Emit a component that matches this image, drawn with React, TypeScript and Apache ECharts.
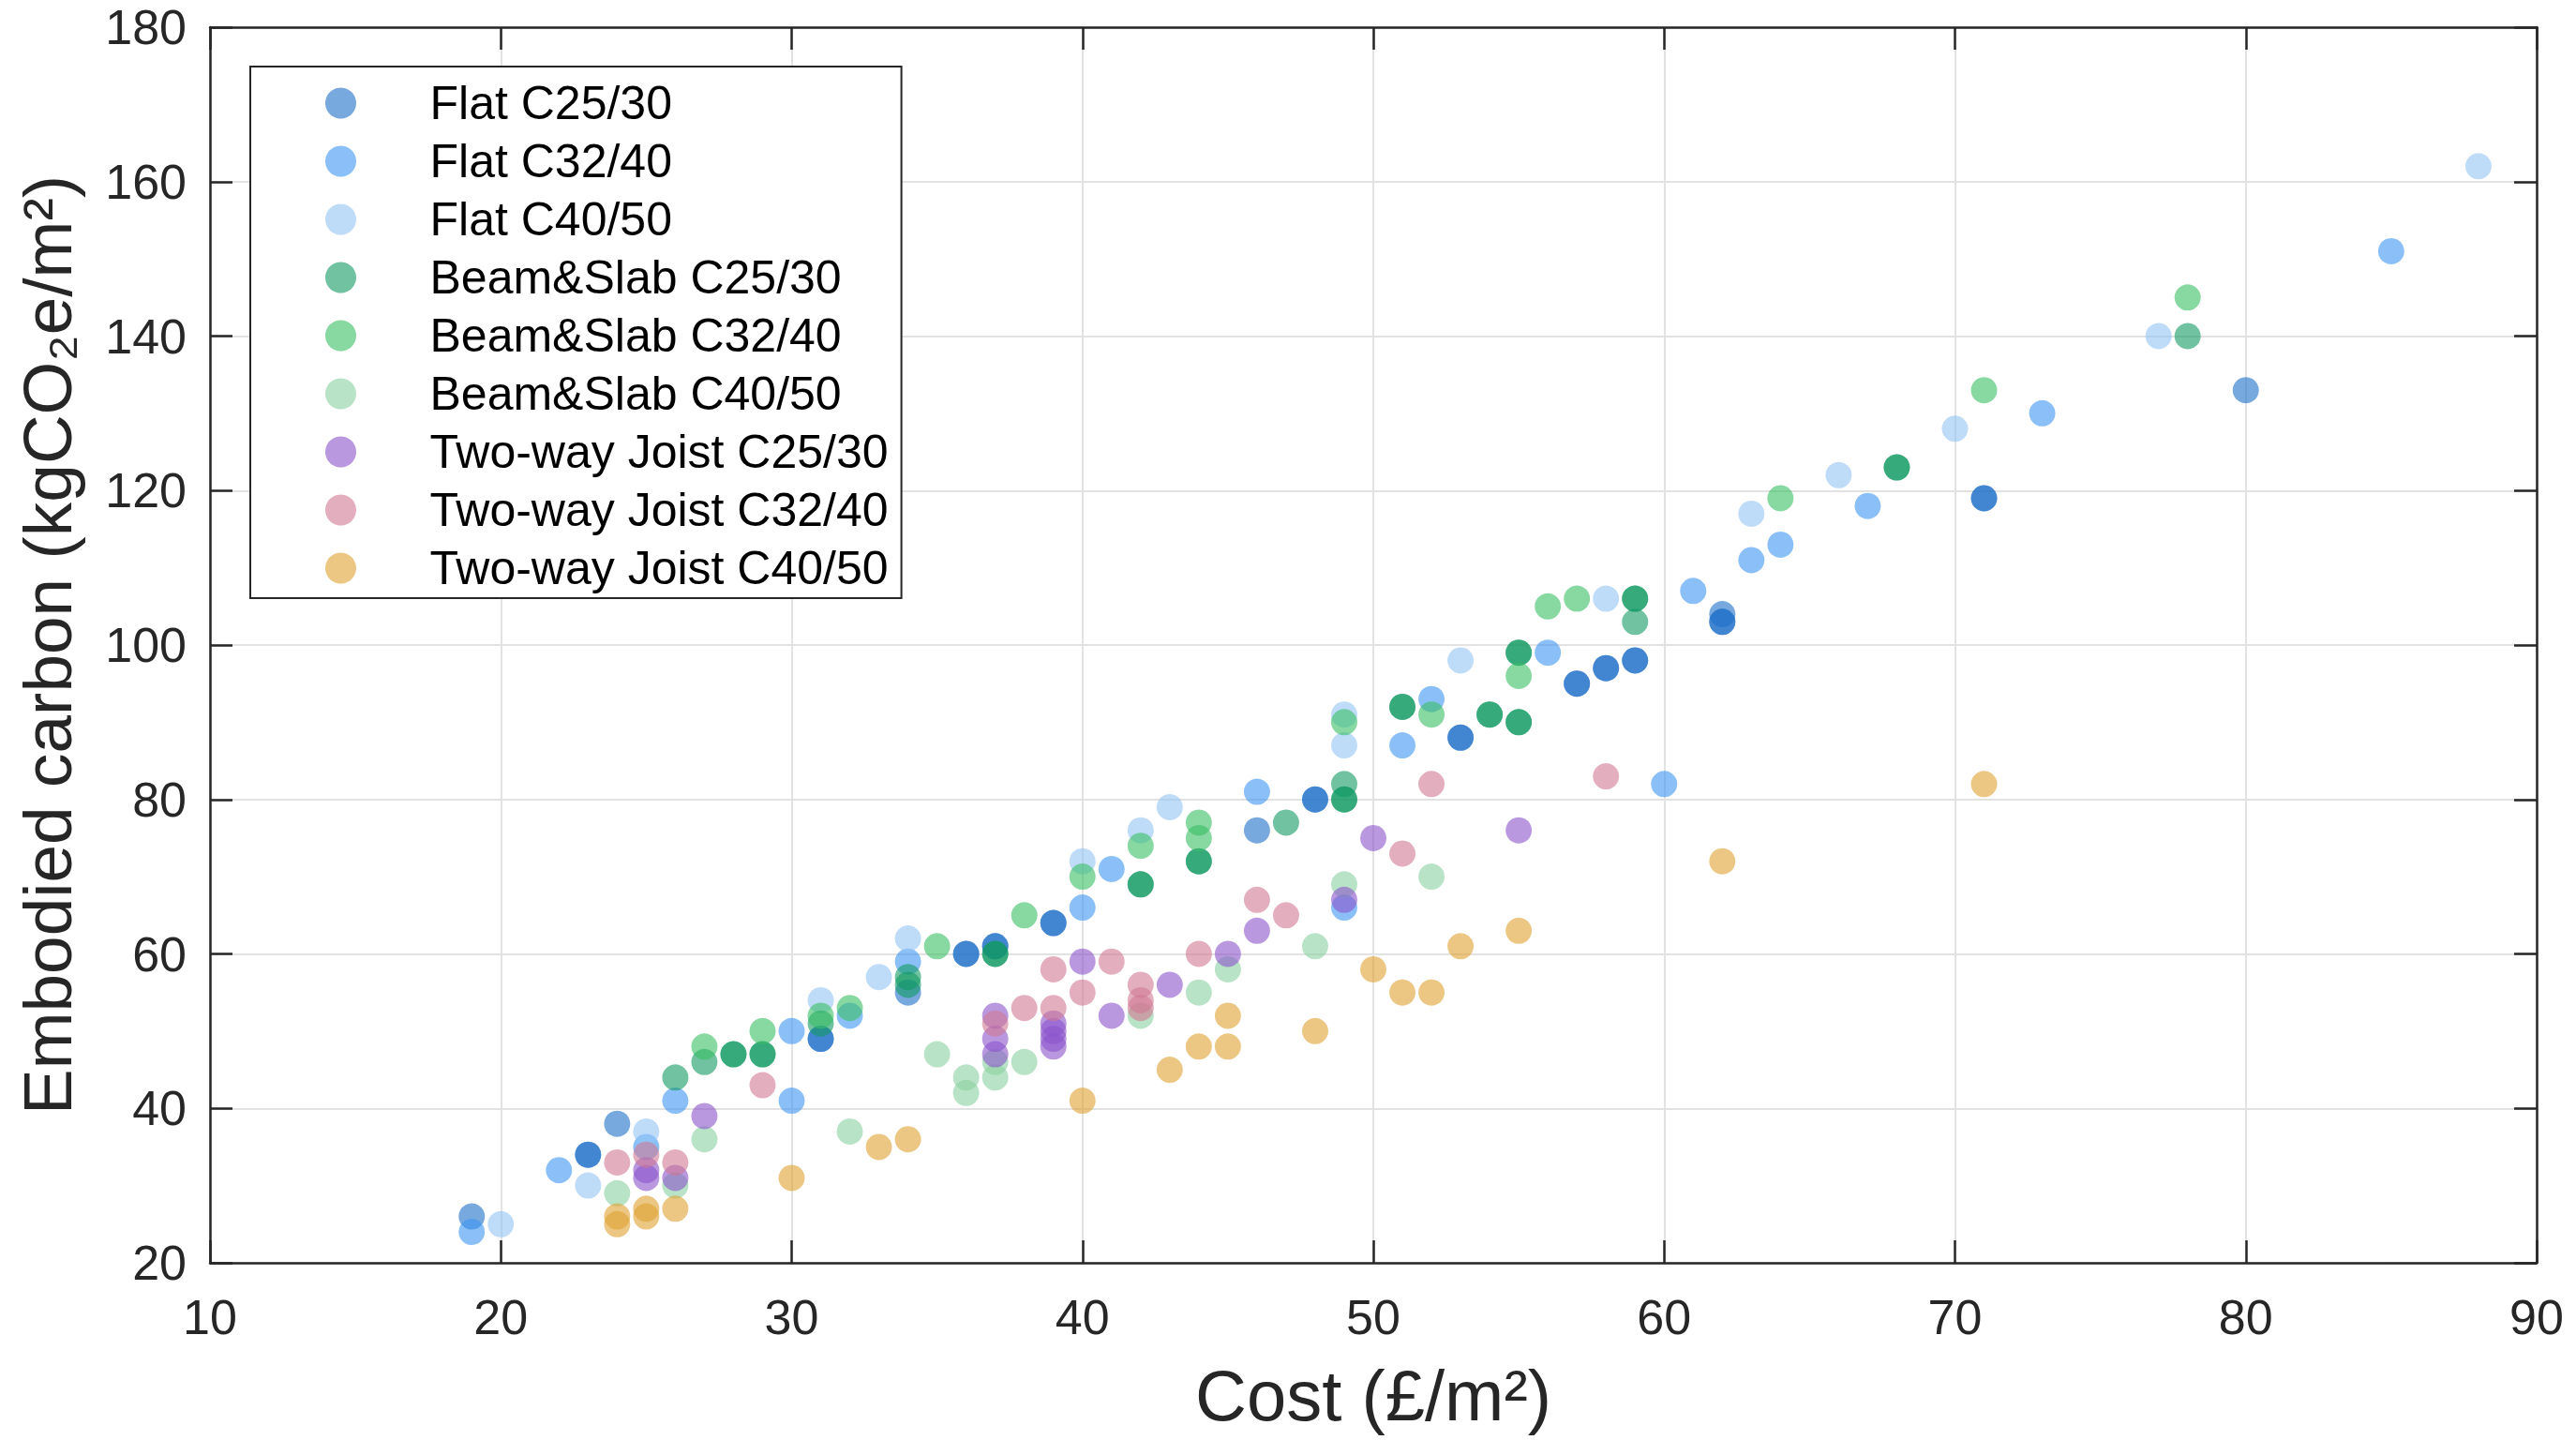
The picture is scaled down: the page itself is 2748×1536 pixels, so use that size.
import React, { useEffect, useRef } from "react";
import * as echarts from "echarts";

// ---- Axis ticks ----
const xTicks = [10, 20, 30, 40, 50, 60, 70, 80, 90];
const yTicks = [20, 40, 60, 80, 100, 120, 140, 160, 180];

// ---- Series names ----
const seriesNames = [
  "Flat C25/30",
  "Flat C32/40",
  "Flat C40/50",
  "Beam&Slab C25/30",
  "Beam&Slab C32/40",
  "Beam&Slab C40/50",
  "Two-way Joist C25/30",
  "Two-way Joist C32/40",
  "Two-way Joist C40/50",
];

// ---- Data: [cost £/m², embodied carbon kgCO2e/m²] ----
const flatC2530 = [
  [19, 26], [23, 34], [23, 34], [24, 38], [31, 49], [31, 49], [34, 55], [36, 60], [36, 60],
  [37, 61], [37, 61], [39, 64], [39, 64], [46, 76], [48, 80], [48, 80], [53, 88], [53, 88],
  [57, 95], [57, 95], [58, 97], [58, 97], [59, 98], [59, 98], [62, 104], [62, 103], [62, 103],
  [71, 119], [71, 119], [80, 133],
];
const flatC3240 = [
  [19, 24], [22, 32], [25, 35], [26, 41], [30, 50], [30, 41], [32, 52], [34, 59], [40, 66],
  [41, 71], [46, 81], [49, 66], [51, 87], [52, 93], [56, 99], [60, 82], [61, 107], [63, 111],
  [64, 113], [67, 118], [73, 130], [85, 151],
];
const flatC4050 = [
  [20, 25], [23, 30], [25, 37], [31, 54], [33, 57], [34, 62], [40, 72], [42, 76], [43, 79],
  [49, 91], [49, 87], [53, 98], [58, 106], [63, 117], [66, 122], [70, 128], [77, 140], [88, 162],
];
const beamC2530 = [
  [26, 44], [27, 46], [28, 47], [28, 47], [29, 47], [29, 47], [31, 51], [34, 57], [34, 56],
  [37, 60], [37, 60], [42, 69], [42, 69], [44, 72], [44, 72], [47, 77], [49, 82], [49, 80],
  [49, 80], [51, 92], [51, 92], [54, 91], [54, 91], [55, 99], [55, 99], [55, 90], [55, 90],
  [59, 106], [59, 106], [59, 103], [68, 123], [68, 123], [78, 140],
];
const beamC3240 = [
  [27, 48], [29, 50], [31, 52], [32, 53], [35, 61], [38, 65], [40, 70], [42, 74], [44, 77],
  [44, 75], [49, 90], [52, 91], [55, 96], [56, 105], [57, 106], [64, 119], [71, 133], [78, 145],
];
const beamC4050 = [
  [24, 29], [26, 30], [27, 36], [32, 37], [35, 47], [36, 44], [36, 42], [37, 46], [37, 44],
  [38, 46], [42, 52], [44, 55], [45, 58], [48, 61], [49, 69], [52, 70],
];
const joistC2530 = [
  [25, 32], [25, 31], [26, 31], [27, 39], [37, 52], [37, 49], [37, 47], [39, 51], [39, 50],
  [39, 49], [39, 48], [40, 59], [41, 52], [43, 56], [45, 60], [46, 63], [49, 67], [50, 75],
  [55, 76],
];
const joistC3240 = [
  [24, 33], [25, 34], [26, 33], [29, 43], [37, 51], [38, 53], [39, 58], [39, 53], [40, 55],
  [41, 59], [42, 56], [42, 54], [42, 53], [44, 60], [46, 67], [47, 65], [51, 73], [52, 82],
  [58, 83],
];
const joistC4050 = [
  [24, 26], [24, 25], [25, 27], [25, 26], [26, 27], [30, 31], [33, 35], [34, 36], [40, 41],
  [43, 45], [44, 48], [45, 48], [45, 52], [48, 50], [50, 58], [51, 55], [52, 55], [53, 61],
  [55, 63], [62, 72], [71, 82],
];

const seriesData = [
  flatC2530, flatC3240, flatC4050,
  beamC2530, beamC3240, beamC4050,
  joistC2530, joistC3240, joistC4050,
];

const seriesColors = [
  "rgba(30,112,200,0.75)",
  "rgba(60,150,242,0.75)",
  "rgba(147,195,244,0.75)",
  "rgba(16,154,99,0.75)",
  "rgba(56,190,100,0.75)",
  "rgba(139,208,160,0.75)",
  "rgba(139,84,204,0.75)",
  "rgba(208,120,146,0.75)",
  "rgba(222,162,48,0.75)",
];

const FONT = "'Liberation Sans', Arial, Helvetica, sans-serif";
const AXIS_COLOR = "#262626";

export default function App() {
  const ref = useRef<HTMLDivElement>(null);

  useEffect(() => {
    if (!ref.current) return;
    const chart = echarts.init(ref.current, undefined, { renderer: "svg" });

    const xMin = xTicks[0];
    const xMax = xTicks[xTicks.length - 1];
    const xInt = xTicks[1] - xTicks[0];
    const yMin = yTicks[0];
    const yMax = yTicks[yTicks.length - 1];
    const yInt = yTicks[1] - yTicks[0];

    const axisLine = { show: true, onZero: false, lineStyle: { color: AXIS_COLOR, width: 2.5 } };
    const axisTick = { show: true, inside: true, length: 24, lineStyle: { color: AXIS_COLOR, width: 2.5 } };

    const option: any = {
      animation: false,
      backgroundColor: "#ffffff",
      textStyle: { fontFamily: FONT },
      grid: { left: 224, right: 42, top: 29, bottom: 189, containLabel: false },
      legend: {
        orient: "vertical",
        left: 267,
        top: 71,
        itemWidth: 180,
        itemHeight: 33,
        itemGap: 12,
        padding: [14, 14, 7, 80],
        backgroundColor: "#ffffff",
        borderColor: AXIS_COLOR,
        borderWidth: 2,
        borderRadius: 0,
        textStyle: { fontSize: 50, color: "#000000", fontFamily: FONT },
        data: seriesNames,
      },
      xAxis: [
        {
          type: "value",
          min: xMin,
          max: xMax,
          interval: xInt,
          position: "bottom",
          name: "Cost (£/m²)",
          nameLocation: "middle",
          nameGap: 103,
          nameTextStyle: { fontSize: 76, color: AXIS_COLOR, fontFamily: FONT },
          axisLine,
          axisTick,
          axisLabel: { fontSize: 52, color: AXIS_COLOR, margin: 32, fontFamily: FONT },
          splitLine: { show: true, lineStyle: { color: "#e2e2e2", width: 2 } },
        },
        {
          type: "value",
          min: xMin,
          max: xMax,
          interval: xInt,
          position: "top",
          axisLine,
          axisTick,
          axisLabel: { show: false },
          splitLine: { show: false },
        },
      ],
      yAxis: [
        {
          type: "value",
          min: yMin,
          max: yMax,
          interval: yInt,
          position: "left",
          name: "Embodied carbon (kgCO₂e/m²)",
          nameLocation: "middle",
          nameGap: 137,
          nameTextStyle: { fontSize: 73, color: AXIS_COLOR, fontFamily: FONT },
          axisLine,
          axisTick,
          axisLabel: { fontSize: 52, color: AXIS_COLOR, margin: 25, fontFamily: FONT },
          splitLine: { show: true, lineStyle: { color: "#e2e2e2", width: 2 } },
        },
        {
          type: "value",
          min: yMin,
          max: yMax,
          interval: yInt,
          position: "right",
          axisLine,
          axisTick,
          axisLabel: { show: false },
          splitLine: { show: false },
        },
      ],
      series: seriesNames.map((name, i) => ({
        name,
        type: "scatter",
        xAxisIndex: 0,
        yAxisIndex: 0,
        symbol: "circle",
        symbolSize: 28,
        data: seriesData[i],
        itemStyle: { color: seriesColors[i], borderWidth: 0 },
        emphasis: { disabled: true },
      })),
    };

    chart.setOption(option);
    return () => {
      chart.dispose();
    };
  }, []);

  return (
    <div
      ref={ref}
      style={{ position: "fixed", left: 0, top: 0, width: 2748, height: 1536, background: "#ffffff" }}
    />
  );
}
